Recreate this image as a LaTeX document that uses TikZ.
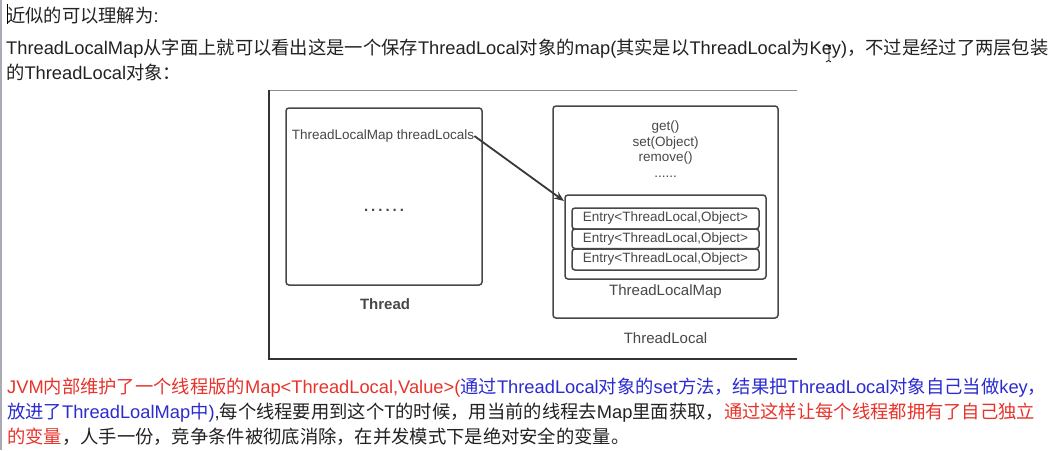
\documentclass[tikz,border=0pt]{standalone}
\usepackage{fontspec}
\setmainfont{Liberation Sans}
\newfontfamily\zh{Noto Sans CJK SC}
\usepackage{xcolor}
\usetikzlibrary{positioning, arrows.meta}

\definecolor{txtred}{HTML}{E8332B}
\definecolor{txtblue}{HTML}{2B2BD0}
\definecolor{txtdark}{HTML}{222222}
\definecolor{boxgray}{HTML}{484848}
\newcommand{\cn}[1]{{\zh #1}}

\tikzset{
  bodyline/.style={anchor=base west, inner sep=0pt, text=txtdark, font=\fontsize{18.3}{25}\selectfont},
  umlbox/.style={draw=boxgray, line width=1.5pt, rounded corners=3pt, inner sep=0pt},
  boxtext/.style={inner sep=0pt, text=boxgray, font=\fontsize{13.5}{15.5}\selectfont},
  boxlabel/.style={inner sep=0pt, text=boxgray, font=\fontsize{15}{17}\selectfont},
}

\begin{document}
\begin{tikzpicture}[x=1pt, y=-1pt] % 以像素為單位
\useasboundingbox (0,0) rectangle (1054,450);
\fill[white] (0,0) rectangle (1054,450);
\fill[black!25!blue!10!gray!60] (0,0) rectangle (2,450);
\draw[black, line width=0.8pt] (7,4) -- (7,24);

% 上方文字
\node[bodyline] (l1) at (7,22) {\cn{近似的可以理解为}:};
\node[bodyline] (l2) at (6,54) {ThreadLocalMap\cn{从字面上就可以看出这是一个保存}ThreadLocal\cn{对象的}map(\cn{其实是以}ThreadLocal\cn{为}Key)\cn{，不过是经过了两层包装}};
\node[bodyline] (l3) at (6,79) {\cn{的}ThreadLocal\cn{对象：}};

% 滑鼠游標
\draw[black, line width=0.7pt] (829,46) -- (829,61) (826,45) -- (828.5,46.5) -- (831,45) (826,62) -- (828.5,60.5) -- (831,62);

% 圖片外框
\draw[black!45, line width=0.6pt] (269,90) -- (797,90);
\draw[black!80, line width=1.2pt] (269,90) -- (269,359) -- (797,359);

% Thread
\node[umlbox, minimum width=196pt, minimum height=177pt] (thread) at (384,196.5) {};
\node[boxtext] (field) at (383,136) {ThreadLocalMap threadLocals};
\node[boxtext, font=\fontsize{15}{17}\selectfont\bfseries] (tdots) at (384,210) {.\kern3pt.\kern3pt.\kern3pt.\kern3pt.\kern3pt.};
\node[boxlabel, font=\fontsize{15}{17}\selectfont\bfseries] (threadlbl) at (385,304) {Thread};

% ThreadLocal
\node[umlbox, minimum width=225pt, minimum height=212pt] (local) at (665.5,212) {};
\node[boxtext, align=center] (methods) at (665.5,149) {get()\\set(Object)\\remove()\\......};
\node[umlbox, minimum width=201pt, minimum height=84pt] (map) at (665.5,237) {};
\node[umlbox, minimum width=187pt, minimum height=21pt, boxtext] (e1) at (665.5,218.5) {Entry<ThreadLocal,Object>};
\node[umlbox, minimum width=187pt, minimum height=19.5pt, boxtext] (e2) at (665.5,238.75) {Entry<ThreadLocal,Object>};
\node[umlbox, minimum width=187pt, minimum height=21pt, boxtext] (e3) at (665.5,259.5) {Entry<ThreadLocal,Object>};
\node[boxlabel] (maplbl) at (665.5,292) {ThreadLocalMap};
\node[boxlabel] (locallbl) at (665.5,338) {ThreadLocal};

\coordinate (tip) at (564,201);
\draw[-{Stealth[length=10pt, width=8pt]}, black!78, line width=1.8pt] (field.east) -- (tip);

% 下方文字
\node[bodyline, text=txtred] (l4) at (7,393) {JVM\cn{内部维护了一个线程版的}Map<ThreadLocal,Value>(\textcolor{txtblue}{\cn{通过}ThreadLocal\cn{对象的}set\cn{方法，结果把}ThreadLocal\cn{对象自己当做}key\cn{，}}};
\node[bodyline] (l5) at (7,418) {\textcolor{txtblue}{\cn{放进了}ThreadLoalMap\cn{中})},\cn{每个线程要用到这个}T\cn{的时候，用当前的线程去}Map\cn{里面获取，}\textcolor{txtred}{\cn{通过这样让每个线程都拥有了自己独立}}};
\node[bodyline] (l6) at (7,443) {\textcolor{txtred}{\cn{的变量}}\cn{，人手一份，竞争条件被彻底消除，在并发模式下是绝对安全的变量。}};

\end{tikzpicture}
\end{document}
